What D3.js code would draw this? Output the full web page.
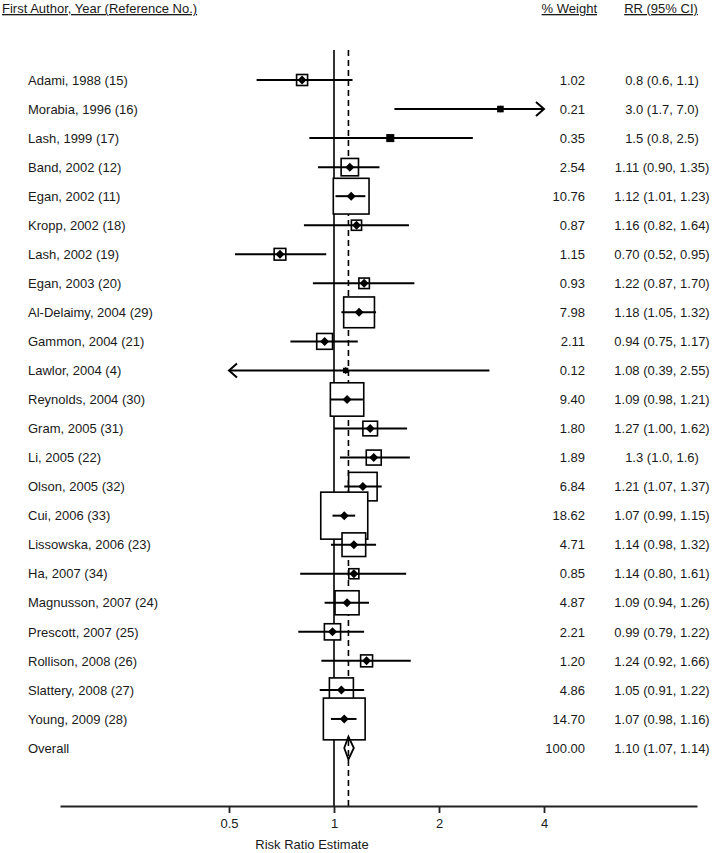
<!DOCTYPE html>
<html>
<head>
<meta charset="utf-8">
<script src="https://cdn.jsdelivr.net/npm/d3@7"></script>
<style>
  html, body { margin: 0; padding: 0; background: #fff; }
  svg { display: block; }
  text { font-family: "Liberation Sans", Arial, sans-serif; fill: #1a1a1a; }
</style>
</head>
<body>
<svg id="chart" width="712" height="853"></svg>
<script>
// ---------------- data ----------------
const studies = [
  "Adami, 1988 (15)", "Morabia, 1996 (16)", "Lash, 1999 (17)", "Band, 2002 (12)",
  "Egan, 2002 (11)", "Kropp, 2002 (18)", "Lash, 2002 (19)", "Egan, 2003 (20)",
  "Al-Delaimy, 2004 (29)", "Gammon, 2004 (21)", "Lawlor, 2004 (4)", "Reynolds, 2004 (30)",
  "Gram, 2005 (31)", "Li, 2005 (22)", "Olson, 2005 (32)", "Cui, 2006 (33)",
  "Lissowska, 2006 (23)", "Ha, 2007 (34)", "Magnusson, 2007 (24)", "Prescott, 2007 (25)",
  "Rollison, 2008 (26)", "Slattery, 2008 (27)", "Young, 2009 (28)"
];
const weights = [1.02, 0.21, 0.35, 2.54, 10.76, 0.87, 1.15, 0.93, 7.98, 2.11, 0.12, 9.40,
  1.80, 1.89, 6.84, 18.62, 4.71, 0.85, 4.87, 2.21, 1.20, 4.86, 14.70];
// plotted point estimates and CI bounds (as drawn in the picture)
const rr =    [0.81, 3.0, 1.45, 1.11, 1.12, 1.16, 0.70, 1.22, 1.18, 0.94, 1.08, 1.09,
  1.27, 1.3, 1.21, 1.07, 1.14, 1.14, 1.09, 0.99, 1.24, 1.05, 1.07];
const lower = [0.6, 1.49, 0.85, 0.90, 1.01, 0.82, 0.52, 0.87, 1.05, 0.75, 0.39, 0.98,
  1.00, 1.04, 1.07, 0.99, 0.98, 0.80, 0.94, 0.79, 0.92, 0.91, 0.98];
const upper = [1.13, 7.0, 2.5, 1.35, 1.23, 1.64, 0.95, 1.70, 1.32, 1.17, 2.79, 1.21,
  1.62, 1.65, 1.37, 1.15, 1.32, 1.61, 1.26, 1.22, 1.66, 1.22, 1.16];
const ciLabels = [
  "0.8 (0.6, 1.1)", "3.0 (1.7, 7.0)", "1.5 (0.8, 2.5)", "1.11 (0.90, 1.35)",
  "1.12 (1.01, 1.23)", "1.16 (0.82, 1.64)", "0.70 (0.52, 0.95)", "1.22 (0.87, 1.70)",
  "1.18 (1.05, 1.32)", "0.94 (0.75, 1.17)", "1.08 (0.39, 2.55)", "1.09 (0.98, 1.21)",
  "1.27 (1.00, 1.62)", "1.3 (1.0, 1.6)", "1.21 (1.07, 1.37)", "1.07 (0.99, 1.15)",
  "1.14 (0.98, 1.32)", "1.14 (0.80, 1.61)", "1.09 (0.94, 1.26)", "0.99 (0.79, 1.22)",
  "1.24 (0.92, 1.66)", "1.05 (0.91, 1.22)", "1.07 (0.98, 1.16)"
];
const overallLabel = "Overall";
const overallWeight = "100.00";
const overallRR = 1.10, overallLower = 1.07, overallUpper = 1.14;
const overallCI = "1.10 (1.07, 1.14)";
const tickValues = [0.5, 1, 2, 4];
const tickLabels = ["0.5", "1", "2", "4"];
const headers = { study: "First Author, Year (Reference No.)", weight: "% Weight", ci: "RR (95% CI)" };
const axisTitle = "Risk Ratio Estimate";

// ---------------- layout ----------------
const svg = d3.select("#chart");
const x = d3.scaleLog().base(2).domain([0.5, 4]).range([229, 544]);
const clipLo = 0.5, clipHi = 4;
const nRows = studies.length + 1;
const y = d3.scaleLinear().domain([0, nRows - 1]).range([80, 748]);
const boxSide = d3.scaleSqrt().domain([0, 18.62]).range([0, 47]);
const axisY = 806;
const lineTop = 50;

// header
const hdr = svg.append("g").attr("font-size", 13);
hdr.append("text").attr("x", 2).attr("y", 13).text(headers.study)
  .style("text-decoration", "underline");
hdr.append("text").attr("x", 597).attr("y", 13).attr("text-anchor", "end").text(headers.weight)
  .style("text-decoration", "underline");
hdr.append("text").attr("x", 661).attr("y", 13).attr("text-anchor", "middle").text(headers.ci)
  .style("text-decoration", "underline");

// reference lines
svg.append("line")
  .attr("x1", x(1)).attr("x2", x(1)).attr("y1", lineTop).attr("y2", axisY)
  .attr("stroke", "#000").attr("stroke-width", 1.6);
svg.append("line")
  .attr("x1", x(overallRR)).attr("x2", x(overallRR)).attr("y1", lineTop).attr("y2", axisY)
  .attr("stroke", "#000").attr("stroke-width", 1.6).attr("stroke-dasharray", "6,4");

// study rows
const rows = svg.append("g");
studies.forEach((name, i) => {
  const g = rows.append("g");
  const cy = y(i), cx = x(rr[i]), s = boxSide(weights[i]);
  g.append("rect")
    .attr("x", cx - s / 2).attr("y", cy - s / 2).attr("width", s).attr("height", s)
    .attr("fill", s < 7 ? "#000" : "#fff").attr("stroke", "#000").attr("stroke-width", 1.6);
  const xl = x(Math.max(lower[i], clipLo)), xh = x(Math.min(upper[i], clipHi));
  g.append("line").attr("x1", xl).attr("x2", xh).attr("y1", cy).attr("y2", cy)
    .attr("stroke", "#000").attr("stroke-width", 2);
  if (upper[i] > clipHi) {
    g.append("path").attr("d", `M${xh - 8},${cy - 7}L${xh},${cy}L${xh - 8},${cy + 7}`)
      .attr("fill", "none").attr("stroke", "#000").attr("stroke-width", 2);
  }
  if (lower[i] < clipLo) {
    g.append("path").attr("d", `M${xl + 8},${cy - 7}L${xl},${cy}L${xl + 8},${cy + 7}`)
      .attr("fill", "none").attr("stroke", "#000").attr("stroke-width", 2);
  }
  const d = s < 7 ? 3.5 : 4.5;
  g.append("path").attr("d", `M${cx - d},${cy}L${cx},${cy - d}L${cx + d},${cy}L${cx},${cy + d}Z`)
    .attr("fill", "#000");
});

// overall diamond
const oy = y(nRows - 1);
svg.append("path")
  .attr("d", `M${x(overallLower)},${oy}L${x(overallRR)},${oy - 11.5}L${x(overallUpper)},${oy}L${x(overallRR)},${oy + 11.5}Z`)
  .attr("fill", "none").attr("stroke", "#000").attr("stroke-width", 1.8);

// text columns
const txt = svg.append("g").attr("font-size", 13);
const labels = studies.concat([overallLabel]);
const wLabels = weights.map(d => d.toFixed(2)).concat([overallWeight]);
const cLabels = ciLabels.concat([overallCI]);
labels.forEach((t, i) => {
  txt.append("text").attr("x", 28).attr("y", y(i)).attr("dy", "0.36em").text(t);
  txt.append("text").attr("x", 585).attr("y", y(i)).attr("dy", "0.36em")
    .attr("text-anchor", "end").text(wLabels[i]);
  txt.append("text").attr("x", 662).attr("y", y(i)).attr("dy", "0.36em")
    .attr("text-anchor", "middle").text(cLabels[i]);
});

// axis
const xAxisScale = x.copy().domain([x.invert(60), x.invert(697)]).range([60, 697]);
const axis = d3.axisBottom(xAxisScale).tickValues(tickValues)
  .tickFormat((d, i) => tickLabels[i]).tickSize(7).tickSizeOuter(0).tickPadding(6);
const ax = svg.append("g").attr("transform", `translate(0,${axisY})`).call(axis);
ax.select(".domain").attr("stroke", "#222").attr("stroke-width", 1.8);
ax.selectAll(".tick line").attr("stroke", "#222").attr("stroke-width", 1.8);
ax.selectAll(".tick text").attr("font-size", 13).attr("fill", "#1a1a1a")
  .attr("font-family", "Liberation Sans, Arial, sans-serif");

svg.append("text").attr("x", 312).attr("y", 849)
  .attr("text-anchor", "middle").attr("font-size", 13).text(axisTitle);
</script>
</body>
</html>
